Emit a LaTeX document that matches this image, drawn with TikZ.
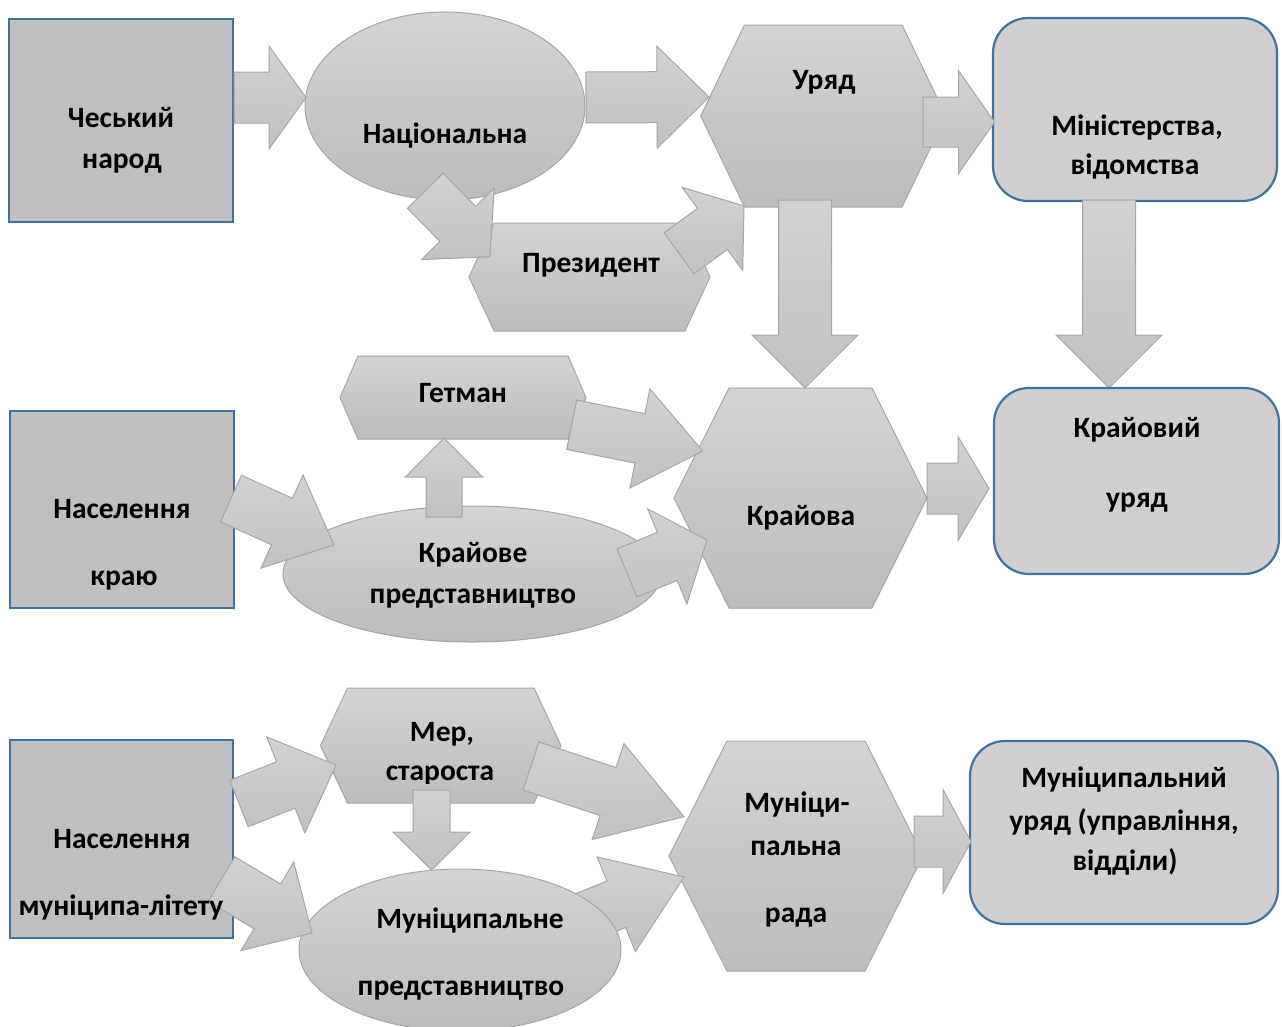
\documentclass[tikz,border=0pt]{standalone}
\usepackage{fontspec}
\setmainfont{Carlito}
\usetikzlibrary{calc,shapes.geometric}

\definecolor{boxfill}{HTML}{BFBFBF}
\definecolor{boxline}{HTML}{41719C}
\definecolor{roundfill}{HTML}{D0CECE}
\definecolor{shapetop}{HTML}{D4D4D4}
\definecolor{shapebot}{HTML}{BCBCBC}
\definecolor{shapeline}{HTML}{A6A6A6}
\definecolor{arrowtop}{HTML}{D2D2D2}
\definecolor{arrowbot}{HTML}{C2C2C2}

\tikzset{
  rectbox/.style={draw=boxline, line width=2.2pt, fill=boxfill, inner sep=0pt},
  roundbox/.style={draw=boxline, line width=2.2pt, fill=roundfill, rounded corners=35pt, inner sep=0pt},
  shapefill/.style={draw=shapeline, line width=1pt, top color=shapetop, bottom color=shapebot},
  arrowfill/.style={draw=shapeline, line width=1pt, top color=arrowtop, bottom color=arrowbot},
  txt/.style={font=\fontsize{29.5}{34}\selectfont\bfseries, anchor=base, inner sep=0pt},
}

% hexagon: name, centre x, centre y, half width, half height, side inset
\newcommand\hexagon[6]{%
  \path[shapefill] (#2-#4,#3) -- (#2-#4+#6,#3-#5) -- (#2+#4-#6,#3-#5) -- (#2+#4,#3)
    -- (#2+#4-#6,#3+#5) -- (#2-#4+#6,#3+#5) -- cycle;
  \coordinate (#1) at (#2,#3);}

% block arrow: tail, tip, shaft half width, head half width, head length
\newcommand\blockarrow[5]{%
  \coordinate (ba-base) at ($(#2)!#5pt!(#1)$);
  \path[arrowfill]
    ($(#1)!#3pt!90:(#2)$) --
    ($(ba-base)!#3pt!90:(#2)$) --
    ($(ba-base)!#4pt!90:(#2)$) --
    (#2) --
    ($(ba-base)!#4pt!-90:(#2)$) --
    ($(ba-base)!#3pt!-90:(#2)$) --
    ($(#1)!#3pt!-90:(#2)$) -- cycle;}

\begin{document}
\begin{tikzpicture}[x=1pt,y=-1pt]
\useasboundingbox (0,0) rectangle (1282,1026);
\fill[white] (0,0) rectangle (1282,1026);
\clip (0,0) rectangle (1282,1026);

% ---------- state level ----------
\node[rectbox, minimum width=224pt, minimum height=203pt] (cesky) at (121,120.5) {};
\node[ellipse, shapefill, minimum width=280pt, minimum height=188pt, inner sep=0pt] (nac) at (445,106) {};
\hexagon{uryad}{823.25}{116}{122.6}{91}{43.8}
\hexagon{prez}{589.5}{277}{120.5}{54}{25}
\node[roundbox, minimum width=284pt, minimum height=183pt] (min) at (1135,109.5) {};

\coordinate (cesky-out) at (234,97.5);   \coordinate (nac-in) at (306,97.5);
\coordinate (nac-out) at (586,97.5);     \coordinate (uryad-in) at (709,97);
\coordinate (nac-down) at (425.3,190.8); \coordinate (prez-in) at (490,256.7);
\coordinate (prez-out) at (679,253.3);   \coordinate (uryad-in2) at (744,206);
\coordinate (uryad-out) at (923,122);    \coordinate (min-in) at (994.5,122);
\coordinate (uryad-down) at (805,200);   \coordinate (krajova-top) at (805,388);
\coordinate (min-down) at (1109,200);    \coordinate (krur-top) at (1109,388);

\blockarrow{cesky-out}{nac-in}{25.5}{51.5}{37}
\blockarrow{nac-out}{uryad-in}{25.5}{51}{52}
\blockarrow{uryad-out}{min-in}{25}{51.5}{36}
\blockarrow{uryad-down}{krajova-top}{26.5}{53}{53}
\blockarrow{min-down}{krur-top}{26.5}{53}{53}
\blockarrow{nac-down}{prez-in}{25}{51}{46}
\blockarrow{prez-out}{uryad-in2}{25.4}{51.4}{39}

% ---------- regional level ----------
\node[rectbox, minimum width=224pt, minimum height=197pt] (nas1) at (122,509.5) {};
\hexagon{hetman}{463}{397.5}{123}{41.5}{18}
\node[ellipse, shapefill, minimum width=378pt, minimum height=136pt, inner sep=0pt] (krpred) at (472,574) {};
\hexagon{krajova}{800.5}{498}{126.5}{110}{55}
\node[roundbox, minimum width=285pt, minimum height=186pt] (krur) at (1136.5,481) {};

\coordinate (nas1-out) at (231,498.5);   \coordinate (krpred-in) at (334,545);
\coordinate (krpred-up) at (444,517);    \coordinate (hetman-in) at (444,438);
\coordinate (hetman-out) at (571.7,424.7); \coordinate (krajova-in) at (702.7,451);
\coordinate (krpred-out) at (627,573);   \coordinate (krajova-in2) at (707,540);
\coordinate (krajova-out) at (927,488.5); \coordinate (krur-in) at (989,488.5);

\blockarrow{nas1-out}{krpred-in}{25.5}{51}{57}
\blockarrow{krpred-up}{hetman-in}{18}{38.5}{39}
\blockarrow{hetman-out}{krajova-in}{25.2}{50.6}{64}
\blockarrow{krpred-out}{krajova-in2}{26}{51.5}{43}
\blockarrow{krajova-out}{krur-in}{25.5}{52}{31}

% ---------- municipal level ----------
\node[rectbox, minimum width=223pt, minimum height=198pt] (nas2) at (121.5,839) {};
\hexagon{mer}{440.75}{745.5}{120.25}{57.5}{27}
\hexagon{rada}{796}{856}{127}{115}{58}
\node[roundbox, minimum width=308pt, minimum height=183pt] (munur) at (1124,832.5) {};

\coordinate (munpred-out) at (560,927);  \coordinate (rada-in2) at (684,877);
\blockarrow{munpred-out}{rada-in2}{25}{51}{73}

\node[ellipse, shapefill, minimum width=322pt, minimum height=162pt, inner sep=0pt] (munpred) at (460,950) {};

\coordinate (nas2-out) at (239,803.5);   \coordinate (mer-in) at (336,765);
\coordinate (nas2-out2) at (221.5,879);  \coordinate (munpred-in) at (312,933);
\coordinate (mer-down) at (431.5,790);   \coordinate (munpred-top) at (431.5,870);
\coordinate (mer-out) at (531,766);      \coordinate (rada-in) at (684,816.7);
\coordinate (rada-out) at (914,841.5);   \coordinate (munur-in) at (971,841.5);

\blockarrow{nas2-out}{mer-in}{25}{51.6}{54}
\blockarrow{nas2-out2}{munpred-in}{26}{51.5}{52}
\blockarrow{mer-down}{munpred-top}{18.5}{38.5}{38}
\blockarrow{mer-out}{rada-in}{25.3}{50.5}{80}
\blockarrow{rada-out}{munur-in}{25.5}{52}{28}

% ---------- labels ----------
\node[txt] (t-cesky1) at (121,127) {Чеський};
\node[txt] (t-cesky2) at (122,168) {народ};
\node[txt] (t-nac) at (445,143) {Національна};
\node[txt] (t-prez) at (591,272) {Президент};
\node[txt] (t-uryad) at (824,89) {Уряд};
\node[txt] (t-min1) at (1137,135) {Міністерства,};
\node[txt] (t-min2) at (1135,174) {відомства};

\node[txt] (t-hetman) at (463,402) {Гетман};
\node[txt] (t-nas1a) at (122,518) {Населення};
\node[txt] (t-nas1b) at (124,585) {краю};
\node[txt] (t-krpred1) at (473,562) {Крайове};
\node[txt] (t-krpred2) at (473,603) {представництво};
\node[txt] (t-krajova) at (801,525) {Крайова};
\node[txt] (t-krur1) at (1137,437) {Крайовий};
\node[txt] (t-krur2) at (1137,507) {уряд};

\node[txt] (t-mer1) at (442,741) {Мер,};
\begin{scope}
  \clip (300,750) rectangle (600,783);
  \node[txt] (t-mer2) at (440,780) {староста};
\end{scope}
\node[txt] (t-nas2a) at (122,848) {Населення};
\node[txt] (t-nas2b) at (121,915) {муніципа-літету};
\node[txt] (t-munpred1) at (470,928) {Муніципальне};
\node[txt] (t-munpred2) at (461,995) {представництво};
\node[txt] (t-rada1) at (797,812) {Муніци-};
\node[txt] (t-rada2) at (796,855) {пальна};
\node[txt] (t-rada3) at (796,922) {рада};
\node[txt] (t-munur1) at (1124,787) {Муніципальний};
\node[txt] (t-munur2) at (1124,830) {уряд (управління,};
\node[txt] (t-munur3) at (1125,870) {відділи)};
\end{tikzpicture}
\end{document}
